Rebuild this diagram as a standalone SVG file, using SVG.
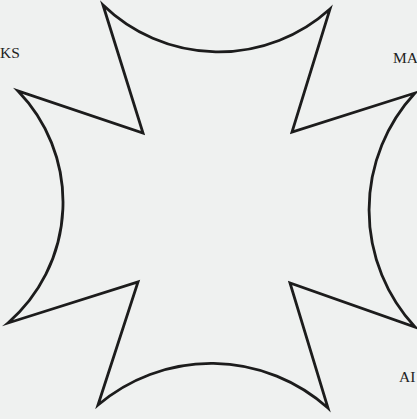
<svg xmlns="http://www.w3.org/2000/svg" width="417" height="419" viewBox="0 0 417 419">
<style>
.bg{fill:#eff1f0}
.cross{fill:none;stroke:#1c1c1c;stroke-width:2.8;stroke-linejoin:miter;stroke-miterlimit:20}
.lbl{font-family:"Liberation Serif","DejaVu Serif",serif;font-size:15.5px;fill:#222}
</style>
<rect class="bg" x="0" y="0" width="417" height="419"/>
<g id="cross">
<path class="cross" d="M103,5 A166,166 0 0 0 330,9 L292,132 L415,93 A172,172 0 0 0 415,327 L290,283 L328,408 A175,175 0 0 0 98,405 L138,282 L8,323 A160,160 0 0 0 18,91 L143,133 Z"/>
</g>
<g id="label-ks"><text class="lbl" x="0" y="58">KS</text></g>
<g id="label-ma"><text class="lbl" x="393" y="63">MA</text></g>
<g id="label-ai"><text class="lbl" x="399" y="382">AI</text></g>
</svg>
